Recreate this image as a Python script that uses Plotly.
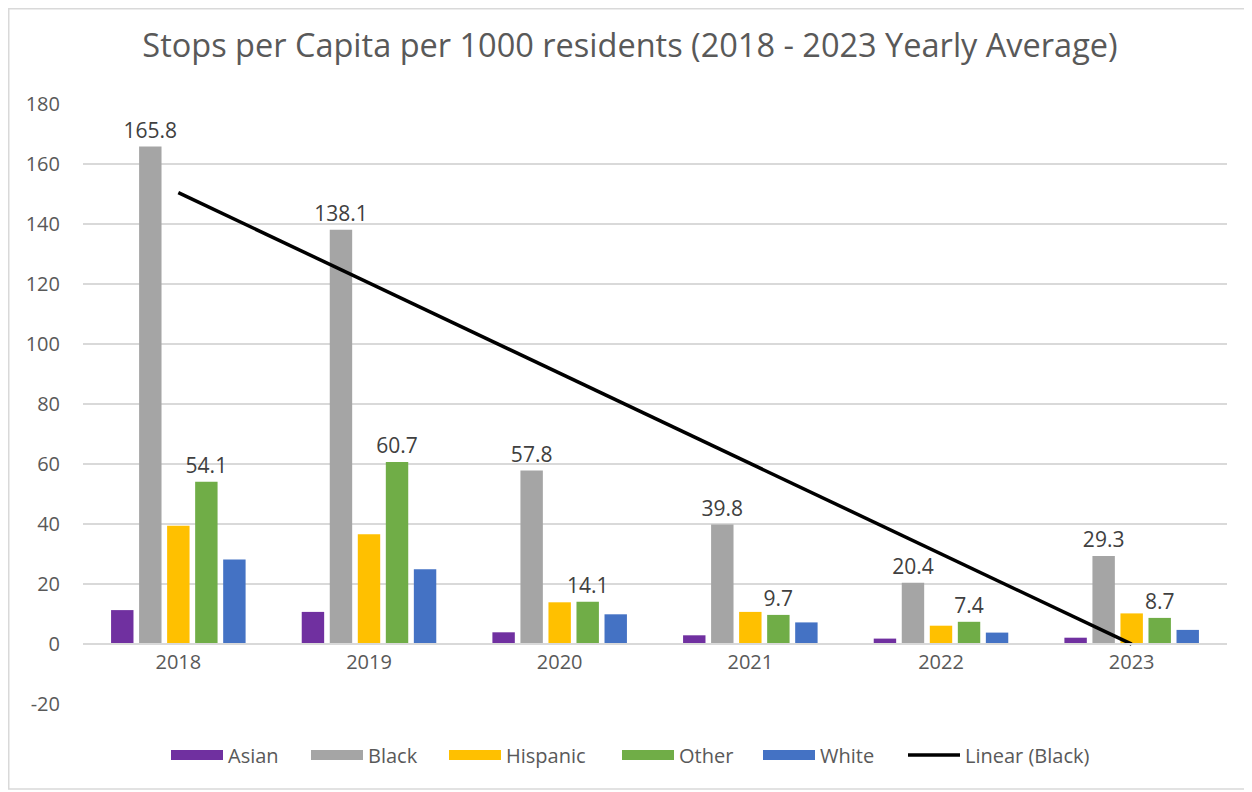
import plotly.graph_objects as go
import numpy as np

years = ["2018", "2019", "2020", "2021", "2022", "2023"]
asian = [11.3, 10.7, 3.9, 2.9, 1.8, 2.1]
black = [165.8, 138.1, 57.8, 39.8, 20.4, 29.3]
hispanic = [39.4, 36.6, 13.9, 10.7, 6.1, 10.2]
other = [54.1, 60.7, 14.1, 9.7, 7.4, 8.7]
white = [28.2, 24.9, 9.9, 7.2, 3.8, 4.7]
y_tickvals = [-20, 0, 20, 40, 60, 80, 100, 120, 140, 160, 180]
y_ticktext = ["-20", "0", "20", "40", "60", "80", "100", "120", "140", "160", "180"]

colors = {"Asian": "#7030A0", "Black": "#A5A5A5", "Hispanic": "#FFC000",
          "Other": "#70AD47", "White": "#4472C4"}

FONT = "Open Sans"
TXT = "#595959"

# linear trendline for Black (least squares over category index)
xi = np.arange(1, len(black) + 1)
slope, intercept = np.polyfit(xi, black, 1)
trend = (slope * xi + intercept).tolist()

OFF = 8  # page body margin
W, H = 1252 - OFF, 792 - OFF
L, R, T, B = 83 - OFF, 25, 104 - OFF, 88
pw, ph = W - L - R, H - T - B

def px2paper_x(px):
    return (px - OFF - L) / pw

def px2paper_y(py):
    return (H - B - (py - OFF)) / ph

fig = go.Figure()
series = [("Asian", asian, False), ("Black", black, True), ("Hispanic", hispanic, False),
          ("Other", other, True), ("White", white, False)]
legend_ids = ["legend", "legend2", "legend3", "legend4", "legend5", "legend6"]
legend_x = [172, 312, 450, 623, 764, 909]

for name, vals, lab in series:
    fig.add_trace(go.Bar(
        x=years, y=vals, name=name, marker_color=colors[name],
        marker_line_width=0, legendgroup=name, showlegend=False,
        text=[f"{v:.1f}" for v in vals] if lab else None,
        textposition="outside" if lab else "none",
        constraintext="none",
        textfont=dict(family=FONT, size=21, color="#404040"),
        cliponaxis=False,
    ))
# legend proxies (wide rectangular swatches like the original)
for i, (name, _, _) in enumerate(series):
    fig.add_trace(go.Scatter(x=[None], y=[None], mode="lines", name=name,
                             legendgroup=name, showlegend=True, legend=legend_ids[i],
                             line=dict(color=colors[name], width=14)))
fig.add_trace(go.Scatter(x=years, y=trend, mode="lines", name="Linear (Black)",
                         legend=legend_ids[5],
                         line=dict(color="black", width=3.5)))

leg_common = dict(orientation="h", xanchor="left", y=px2paper_y(755), yanchor="middle",
                  font=dict(family=FONT, size=20, color=TXT), itemwidth=52,
                  bgcolor="rgba(0,0,0,0)")
legends = {}
for lid, lx in zip(legend_ids, legend_x):
    legends[lid] = dict(leg_common, x=px2paper_x(lx - 6))

fig.update_layout(
    width=W, height=H,
    margin=dict(l=L, r=R, t=T, b=B, autoexpand=False),
    paper_bgcolor="white", plot_bgcolor="white",
    barmode="group", bargap=0.265, bargroupgap=0.2,
    font=dict(family=FONT, color=TXT),
    title=dict(text="Stops per Capita per 1000 residents (2018 - 2023 Yearly Average)",
               x=px2paper_x(630), xref="paper", xanchor="center",
               y=1 - (46 - OFF) / H, yanchor="middle",
               font=dict(family=FONT, size=32.5, color=TXT)),
    xaxis=dict(anchor="free", position=0.1, showline=True, linecolor="#D9D9D9",
               linewidth=1.5, ticks="", showgrid=False,
               tickfont=dict(family=FONT, size=20, color=TXT)),
    yaxis=dict(range=[-20, 180], tickvals=y_tickvals, ticktext=y_ticktext,
               showgrid=True, gridcolor="#D9D9D9",
               gridwidth=1.5, zeroline=False, ticks="", ticklabelstandoff=22,
               tickfont=dict(family=FONT, size=20, color=TXT)),
    showlegend=True,
    shapes=[dict(type="rect", xref="paper", yref="paper",
                 x0=px2paper_x(8.75), x1=px2paper_x(1245),
                 y0=px2paper_y(789), y1=px2paper_y(8.75),
                 line=dict(color="#D9D9D9", width=1.5), layer="below")],
    **legends,
)

fig.write_html("out.html")
